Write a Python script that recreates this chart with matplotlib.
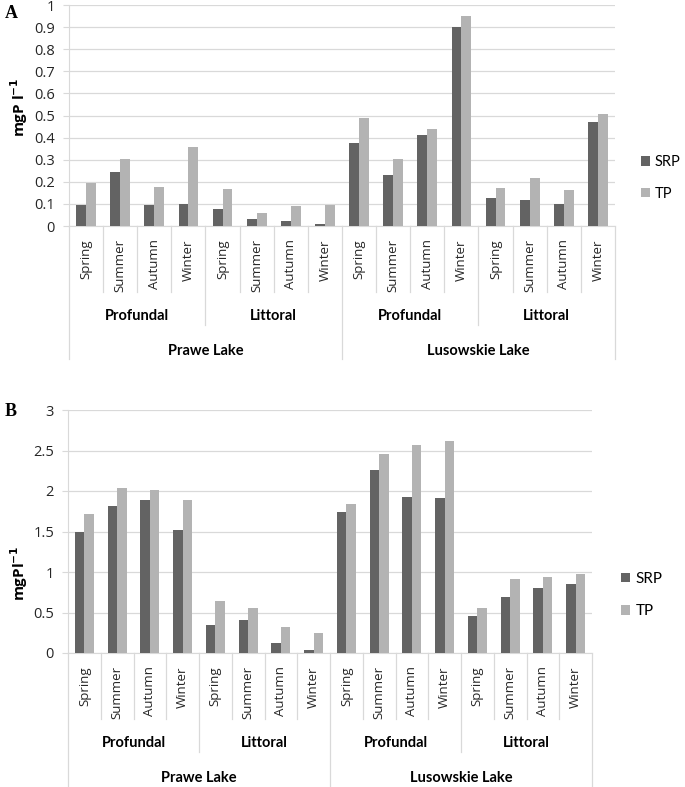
import matplotlib.pyplot as plt
import numpy as np

# Data (mgP/l)
lakes = ['Prawe Lake', 'Lusowskie Lake']
zones = ['Profundal', 'Littoral']
seasons = ['Spring', 'Summer', 'Autumn', 'Winter']

# Panel A
srp_a = [0.095, 0.246, 0.095, 0.100, 0.078, 0.033, 0.022, 0.010,
         0.377, 0.231, 0.410, 0.899, 0.128, 0.118, 0.101, 0.471]
tp_a = [0.196, 0.302, 0.178, 0.359, 0.167, 0.061, 0.090, 0.097,
        0.489, 0.302, 0.439, 0.950, 0.173, 0.217, 0.163, 0.505]
# Panel B
srp_b = [1.500, 1.815, 1.890, 1.517, 0.351, 0.413, 0.120, 0.041,
         1.746, 2.262, 1.930, 1.919, 0.462, 0.693, 0.800, 0.850]
tp_b = [1.720, 2.034, 2.017, 1.890, 0.648, 0.553, 0.318, 0.243,
        1.837, 2.460, 2.571, 2.617, 0.553, 0.908, 0.941, 0.974]

W, H = 685, 787
SRP_COL = '#636363'
TP_COL = '#b3b3b3'
GRID = '#d9d9d9'
TXT = '#262626'

fig = plt.figure(figsize=(W / 100, H / 100), dpi=100)


def draw_panel(px_box, srp, tp, ymax, ystep, ylabel, ylabel_y, letter, letter_y, leg_xy, leg_size):
    x0, y0, x1, y1 = px_box
    ax = fig.add_axes([x0 / W, 1 - y1 / H, (x1 - x0) / W, (y1 - y0) / H])
    ax_h = y1 - y0
    n = len(srp)
    x = np.arange(n)
    bw = 0.29
    ax.bar(x - bw / 2, srp, bw, color=SRP_COL, label='SRP', zorder=3)
    ax.bar(x + bw / 2, tp, bw, color=TP_COL, label='TP', zorder=3)

    ax.set_xlim(-0.5, n - 0.5)
    ax.set_ylim(0, ymax)
    yt = np.arange(0, ymax + ystep / 2, ystep)
    ax.set_yticks(yt)
    ax.set_yticklabels([f'{v:g}' for v in yt], fontsize=10.5, family='Open Sans', color=TXT)
    ax.tick_params(axis='y', length=4, color=GRID, pad=6)
    ax.set_xticks([])
    ax.grid(axis='y', color=GRID, lw=0.9, zorder=0)
    for s in ['top', 'right']:
        ax.spines[s].set_visible(False)
    ax.spines['left'].set_color(GRID)
    ax.spines['bottom'].set_color(GRID)
    ax.spines['left'].set_zorder(1)

    # multi-level category axis
    tr = ax.get_xaxis_transform()
    for i in range(n + 1):
        if i % 8 == 0:
            depth = 133
        elif i % 4 == 0:
            depth = 99
        else:
            depth = 66
        ax.plot([i - 0.5, i - 0.5], [0, -depth / ax_h], transform=tr,
                color=GRID, lw=0.9, clip_on=False)
    for i in range(n):
        ax.text(i, -13 / ax_h, seasons[i % 4], transform=tr, rotation=90,
                ha='center', va='top', fontsize=9.5, family='Open Sans', color=TXT)
    for j in range(n // 4):
        ax.text(j * 4 + 1.5, -90 / ax_h, zones[j % 2], transform=tr,
                ha='center', va='center', fontsize=10.5, family='Lato',
                fontweight='bold', color='black')
    for k in range(n // 8):
        ax.text(k * 8 + 3.5, -125 / ax_h, lakes[k], transform=tr,
                ha='center', va='center', fontsize=10.5, family='Lato',
                fontweight='bold', color='black')

    fig.text(19 / W, 1 - ylabel_y / H, ylabel, rotation=90, ha='center', va='center',
             fontsize=11, fontweight='bold', family='Open Sans', color='black')
    fig.text(5 / W, 1 - letter_y / H, letter, ha='left', va='center',
             fontsize=13, fontweight='bold', family='Liberation Serif')

    ax.legend(loc='center left', bbox_to_anchor=(leg_xy[0] / W, 1 - leg_xy[1] / H),
              bbox_transform=fig.transFigure, frameon=False,
              prop={'family': 'Lato', 'size': leg_size},
              handlelength=0.6, handleheight=0.6, handletextpad=0.35,
              labelspacing=1.2, borderpad=0, borderaxespad=0)
    return ax


draw_panel((69, 5, 615, 226), srp_a, tp_a, 1.0, 0.1,
           r'mgP l$^{\mathbf{-1}}$', 107, 'A', 13, (641, 178), 10.5)
draw_panel((68, 410, 592, 653), srp_b, tp_b, 3.0, 0.5,
           r'mgPl$^{\mathbf{-1}}$', 573, 'B', 411, (621, 595), 11)

fig.savefig('out.png', dpi=100)
